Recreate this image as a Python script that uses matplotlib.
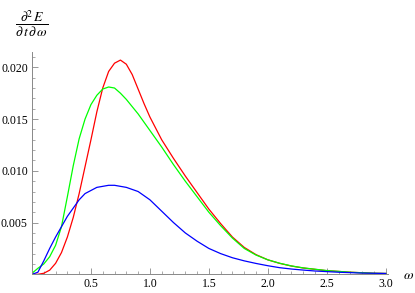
import numpy as np
import matplotlib
matplotlib.use('Agg')
import matplotlib.pyplot as plt
from matplotlib.ticker import MultipleLocator, FixedLocator

plt.rcParams['mathtext.fontset'] = 'stix'
plt.rcParams['font.family'] = ['Liberation Serif', 'DejaVu Serif']

# values
w_lo = [0.0, 0.05, 0.1, 0.15, 0.2, 0.25, 0.3, 0.35, 0.4, 0.45, 0.5, 0.55, 0.6, 0.65,
        0.7, 0.75, 0.8, 0.85, 0.9, 0.95, 1.0]
w_hi = [1.1, 1.2, 1.3, 1.4, 1.5, 1.6, 1.7, 1.8, 1.9, 2.0, 2.1, 2.2, 2.3, 2.4, 2.5,
        2.6, 2.7, 2.8, 2.9, 3.0]
omega = w_lo + w_hi

red = [0.0, 0.0, 0.0001, 0.0004, 0.00106, 0.0021, 0.0036, 0.0055, 0.0078, 0.0104,
       0.0130, 0.0157, 0.0180, 0.0196, 0.0204, 0.0207, 0.0203, 0.0193, 0.0179,
       0.0165, 0.0152,
       0.0130, 0.0112, 0.0095, 0.0079, 0.0063, 0.0049, 0.0036, 0.0026, 0.0019,
       0.0014, 0.00106, 0.0008, 0.00061, 0.00048, 0.00035, 0.00028, 0.0002,
       0.00015, 0.0001, 0.00008]

green = [0.0001, 0.00058, 0.0010, 0.0017, 0.0028, 0.0046, 0.0075, 0.0105, 0.0131,
         0.0150, 0.0164, 0.0173, 0.0179, 0.0181, 0.0180, 0.0175, 0.0169, 0.0162,
         0.0155, 0.0147, 0.0139,
         0.0123, 0.0106, 0.0090, 0.0075, 0.0060, 0.0047, 0.0035, 0.0025, 0.00186,
         0.0014, 0.00107, 0.00081, 0.00062, 0.00049, 0.00036, 0.00028, 0.0002,
         0.00015, 0.0001, 0.00008]

blue = [0.0, 0.0002, 0.0013, 0.0025, 0.0036, 0.0046, 0.0056, 0.0064, 0.0072, 0.0078,
        0.0081, 0.0084, 0.0085, 0.0086, 0.0086, 0.0085, 0.0084, 0.0082, 0.0080,
        0.0076, 0.0072,
        0.0061, 0.0050, 0.0040, 0.0032, 0.0025, 0.0020, 0.0016, 0.0013, 0.00105,
        0.00083, 0.00064, 0.00051, 0.00041, 0.00032, 0.00026, 0.0002, 0.00016,
        0.00012, 0.0001, 0.00008]

xticks = [0.5, 1.0, 1.5, 2.0, 2.5, 3.0]
yticks = [0.005, 0.010, 0.015, 0.020]

fig = plt.figure(figsize=(4.15, 2.93), dpi=100)
ax = fig.add_axes([0.0771, 0.0638, 0.858, 0.7587])

for ys, c in [(red, (1, 0, 0)), (green, (0, 1, 0)), (blue, (0, 0, 1))]:
    ax.plot(omega, ys, color=c, lw=0.9, solid_joinstyle='round')

ax.set_xlim(0, 3.02)
ax.set_ylim(0, 0.02148)

for s in ['top', 'right']:
    ax.spines[s].set_visible(False)
for s in ['left', 'bottom']:
    ax.spines[s].set_color('#888888')
    ax.spines[s].set_linewidth(0.7)

ax.xaxis.set_major_locator(FixedLocator(xticks))
ax.yaxis.set_major_locator(FixedLocator(yticks))
ax.xaxis.set_minor_locator(MultipleLocator(0.1))
ax.yaxis.set_minor_locator(MultipleLocator(0.001))
ax.set_xticklabels(['%.1f' % v for v in xticks])
ax.set_yticklabels(['%.3f' % v for v in yticks])
ax.tick_params(which='major', direction='in', length=4, width=0.6, color='#888888',
               labelsize=8.5, pad=3)
ax.tick_params(which='minor', direction='in', length=2, width=0.5, color='#888888')

ax.text(3.15, -0.00015, r'$\omega$', fontsize=10, ha='left', va='center')
fig.text(0.077, 0.918, r'$\dfrac{\partial^2\, E}{\partial\, t\, \partial\, \omega}$',
         fontsize=10, ha='center', va='center')

fig.savefig('out.png', dpi=100)
